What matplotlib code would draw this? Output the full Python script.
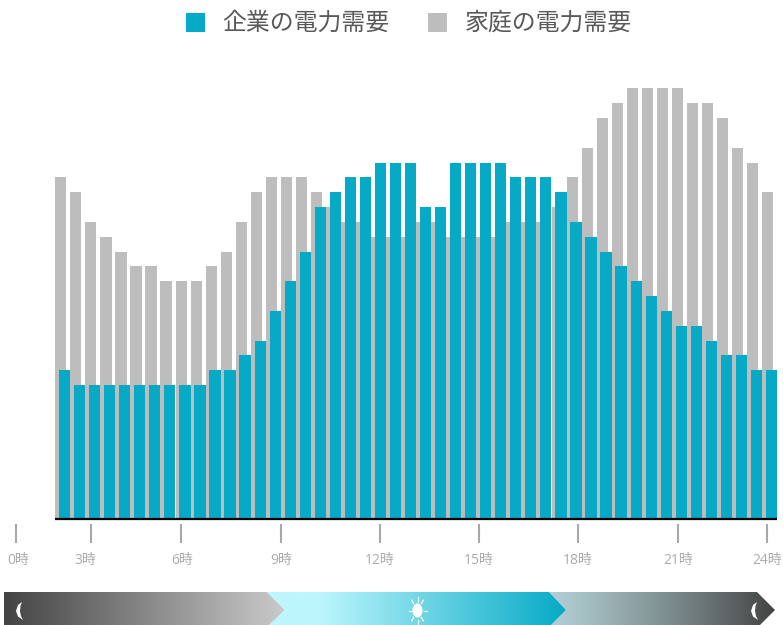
import numpy as np
import matplotlib
matplotlib.use("Agg")
import matplotlib.pyplot as plt
from matplotlib.colors import to_rgb
from matplotlib.patches import Polygon, Ellipse, Rectangle

plt.rcParams['font.family'] = ['Open Sans', 'Noto Sans CJK JP', 'DejaVu Sans']

# half hour steps, 48 bars each
home = [23, 22, 20, 19, 18, 17, 17, 16, 16, 16, 17, 18, 20, 22, 23, 23,
        23, 22, 21, 20, 20, 19, 19, 19, 20, 20, 19, 19, 19, 19, 20, 20,
        20, 21, 23, 25, 27, 28, 29, 29, 29, 29, 28, 28, 27, 25, 24, 22]
company = [10, 9, 9, 9, 9, 9, 9, 9, 9, 9, 10, 10, 11, 12, 14, 16,
           18, 21, 22, 23, 23, 24, 24, 24, 21, 21, 24, 24, 24, 24, 23, 23,
           23, 22, 20, 19, 18, 17, 16, 15, 14, 13, 13, 12, 11, 11, 10, 10]
tick_hours = [0, 3, 6, 9, 12, 15, 18, 21, 24]
tick_px = [16, 91, 181, 281, 380, 479, 578, 678, 767]
label_px = [18, 85, 182, 281, 380, 479, 578, 678, 767]
names = ['企業の電力需要', '家庭の電力需要']
TEAL = '#06aac6'
GRAY = '#bdbdbd'

W, H = 783, 625
fig = plt.figure(figsize=(W / 100, H / 100), dpi=100)
ax = fig.add_axes([0, 0, 1, 1])

base = 518.5
unit = 14.83
step = 15.04
for i, (h, c) in enumerate(zip(home, company)):
    ax.add_patch(Rectangle((55.2 + step * i, base), 11.2, -h * unit, fc=GRAY, ec='none', zorder=2))
    ax.add_patch(Rectangle((59 + step * i, base), 11.2, -c * unit, fc=TEAL, ec='none', zorder=3))
ax.plot([55.2, 777], [base + 0.8, base + 0.8], color='black', lw=1.6, zorder=4, solid_capstyle='butt')

for hour, px, lx in zip(tick_hours, tick_px, label_px):
    ax.plot([px, px], [524, 543], color='#a8a8a8', lw=1.5, solid_capstyle='butt')
    ax.text(lx, 560.5, '%d時' % hour, color='#ababab', fontsize=10, ha='center', va='center')

# legend
ax.add_patch(Rectangle((186, 13), 19, 19, fc=TEAL, ec='none'))
ax.add_patch(Rectangle((428, 13), 19, 19, fc=GRAY, ec='none'))
ax.text(222.5, 23.5, names[0], color='#595959', fontsize=17.2, va='center')
ax.text(464.5, 23.5, names[1], color='#595959', fontsize=17.2, va='center')


# day / night band
def band(pts, x0, x1, c0, c1, t, z):
    a = np.array(to_rgb(c0))
    b = np.array(to_rgb(c1))
    im = ax.imshow(a + (b - a) * t[None, :, None], extent=(x0, x1, 625, 592), aspect='auto', zorder=z)
    im.set_clip_path(Polygon(pts, transform=ax.transData))


ramp = np.linspace(0, 1, 300)
band([(4, 592), (267, 592), (285, 610), (269, 625), (4, 625)], 4, 285,
     '#444444', '#cacaca', ramp, 5)
band([(267, 592), (549, 592), (566, 610), (551, 625), (269, 625), (285, 610)], 267, 566,
     '#bdf6fd', TEAL, np.clip((np.linspace(267, 566, 300) - 318) / 248, 0, 1), 6)
band([(549, 592), (757, 592), (775, 610), (760, 625), (551, 625), (566, 610)], 549, 775,
     '#b2d0d4', '#444444', ramp ** 1.15, 5)
ax.set_xlim(0, W)
ax.set_ylim(H, 0)
ax.axis('off')

# moons
for mx in [16, 751]:
    ax.add_patch(Polygon([(mx + 6, 602), (mx + 2, 605), (mx, 611), (mx + 2, 616.5), (mx + 7, 620),
                          (mx + 5, 616), (mx + 4, 611), (mx + 4.5, 606)], fc='white', ec='none', zorder=8))

# sun
sx, sy = 417.5, 610.5
ax.add_patch(Ellipse((sx, sy), 10, 14, fc='white', ec='none', zorder=8))
for ang in np.deg2rad([0, 50, 90, 130, 180, 230, 270, 310]):
    ax.plot([sx + 6 * np.cos(ang), sx + 9 * np.cos(ang)],
            [sy + 9 * np.sin(ang), sy + 13.5 * np.sin(ang)], color='white', lw=0.9, zorder=8)

fig.savefig('out.png', dpi=100)
